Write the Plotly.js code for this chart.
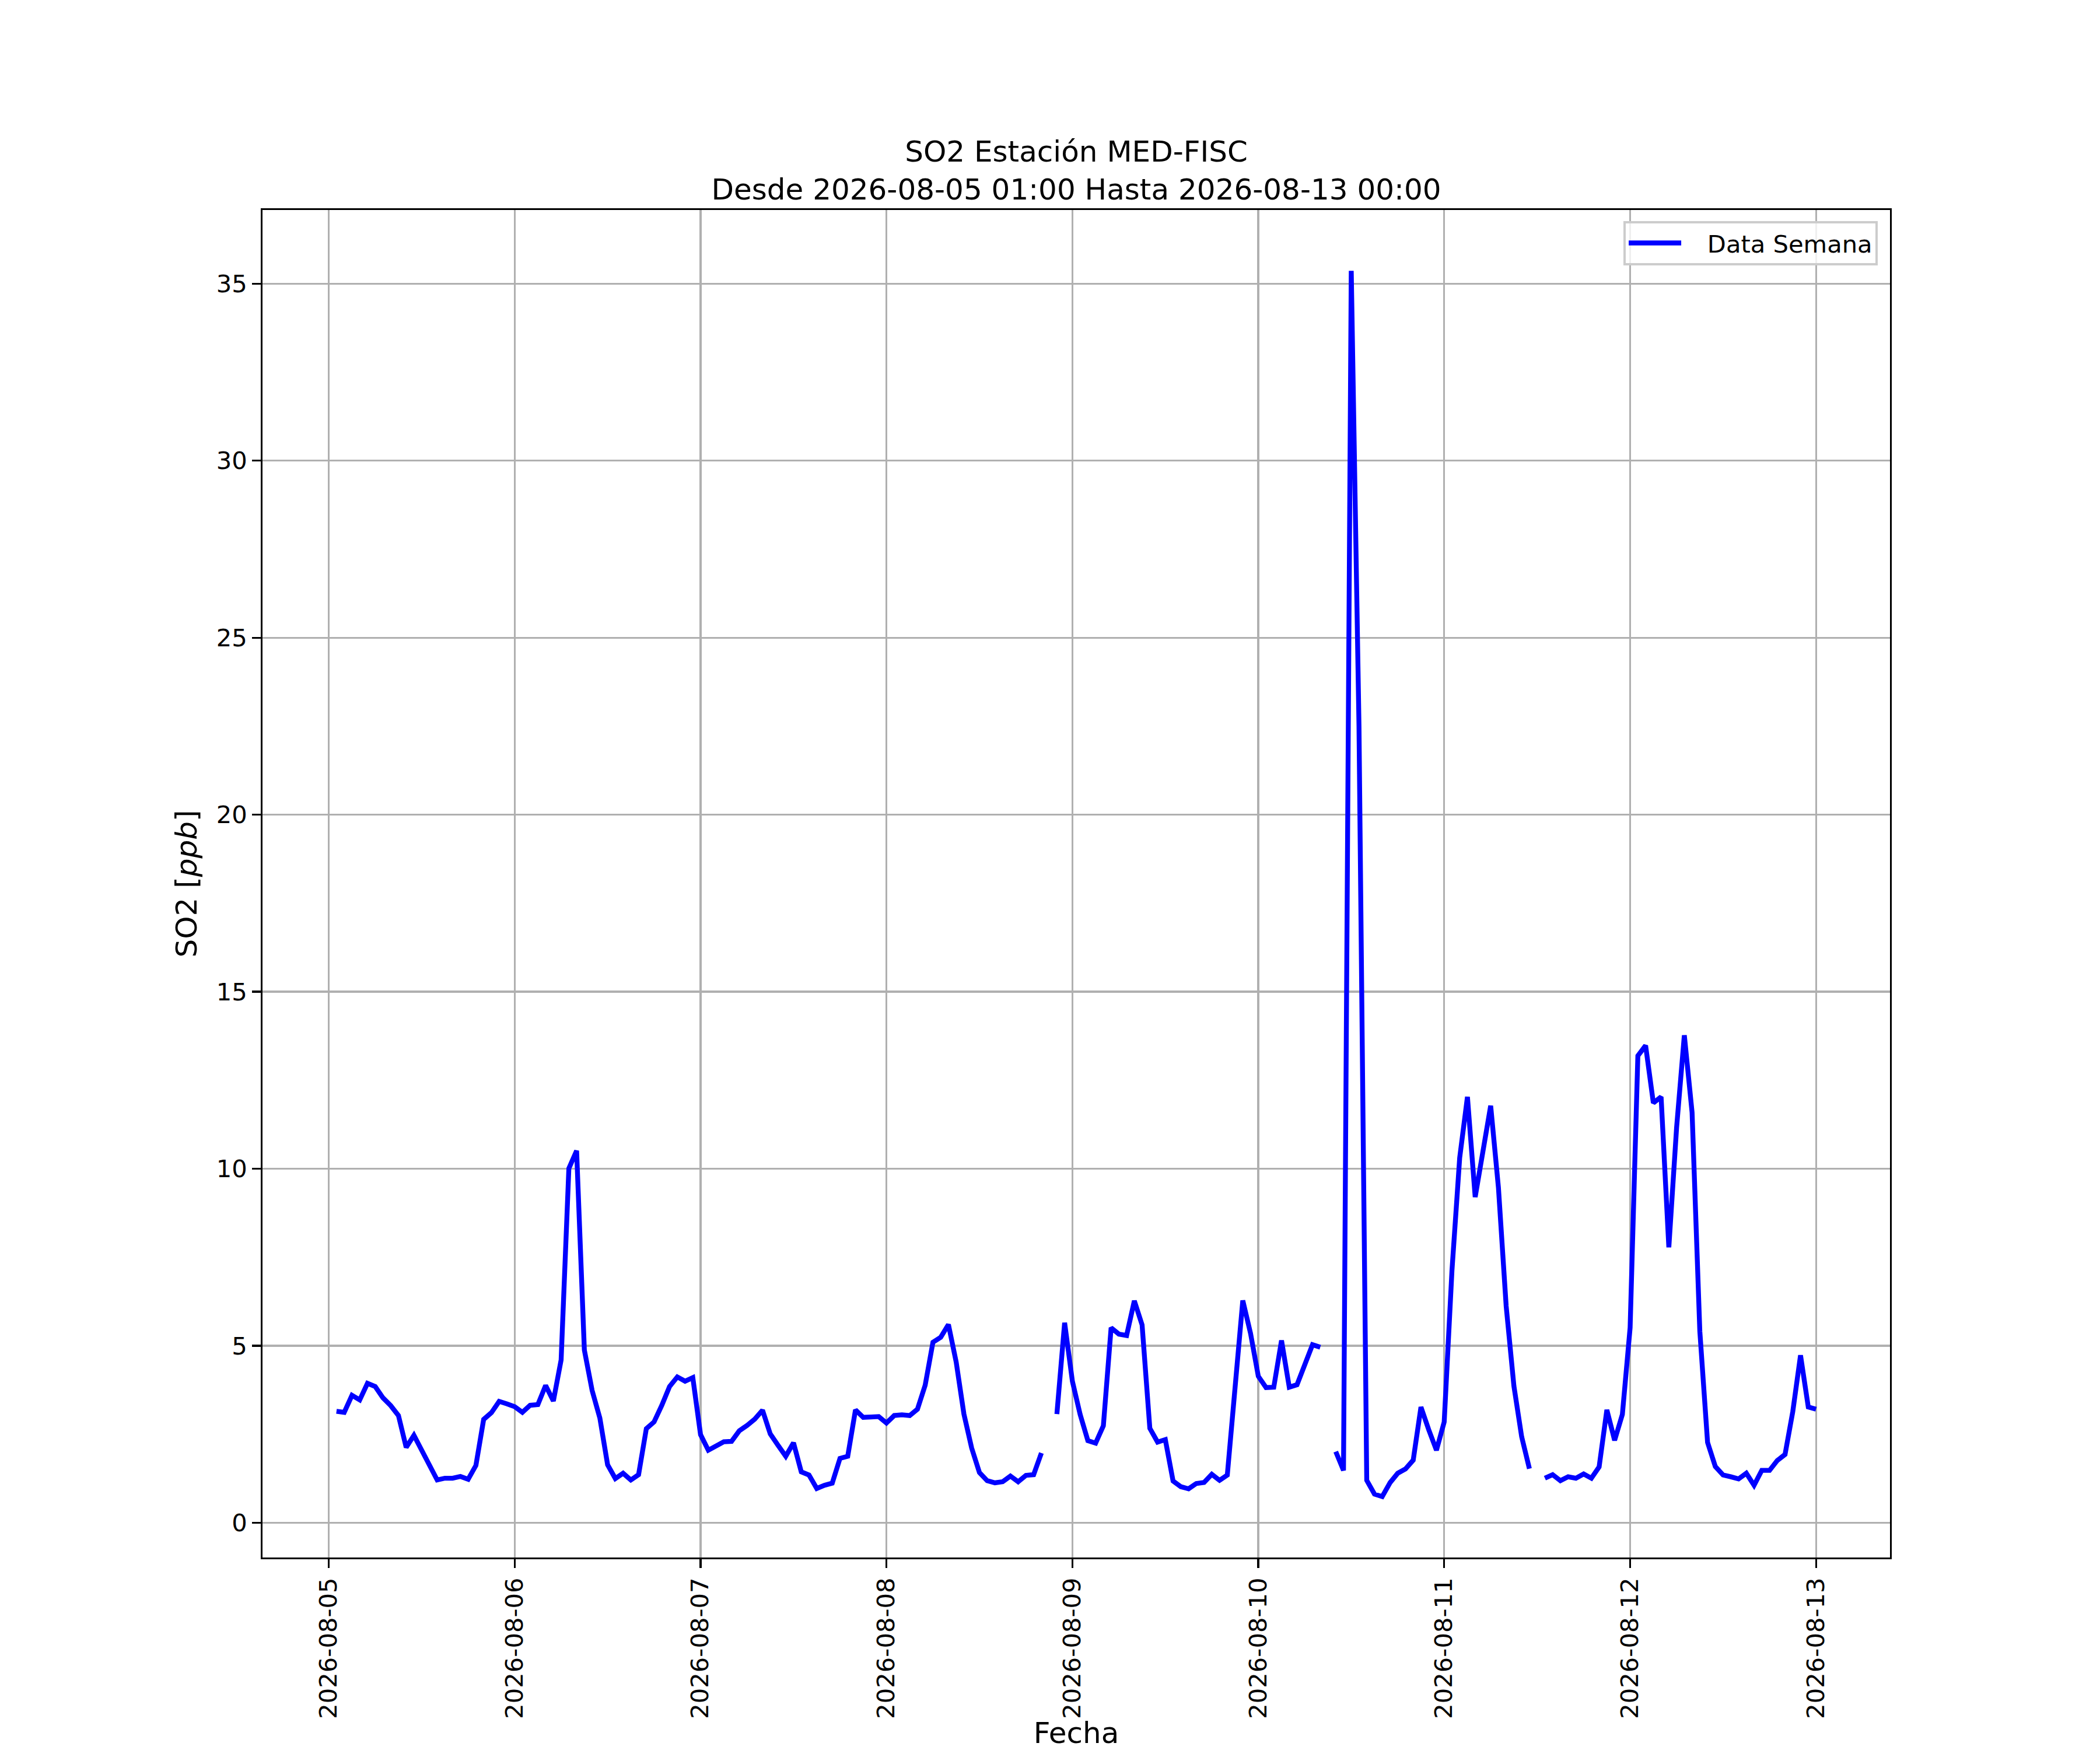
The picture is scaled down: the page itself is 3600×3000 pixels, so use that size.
<!DOCTYPE html>
<html>
<head>
<meta charset="utf-8">
<script src="https://cdn.plot.ly/plotly-3.0.1.min.js"></script>
<style>
  html, body { margin: 0; padding: 0; background: #fff; }
  #grafico { width: 3600px; height: 3000px; }
</style>
</head>
<body>
<div id="grafico"></div>
<script>
// Valores horarios de SO2 [ppb], un arreglo por día (null = sin dato)
const fechas = ['2026-08-05', '2026-08-06', '2026-08-07', '2026-08-08', '2026-08-09',
                '2026-08-10', '2026-08-11', '2026-08-12', '2026-08-13'];
// hora de la primera medición de cada día
const horaInicio = [1, 0, 0, 0, 0, 0, 0, 0, 0];

const so2_0805 = [3.15, 3.12, 3.60, 3.47, 3.94, 3.85, 3.53, 3.31, 3.03, 2.13, 2.47, 2.07,
                  1.68, 1.21, 1.26, 1.26, 1.31, 1.23, 1.62, 2.92, 3.11, 3.43, 3.36];
const so2_0806 = [3.28, 3.12, 3.32, 3.34, 3.88, 3.44, 4.60, 10.01, 10.51, 4.88, 3.74, 2.96,
                  1.64, 1.25, 1.40, 1.21, 1.36, 2.66, 2.85, 3.32, 3.85, 4.12, 4.00, 4.10];
const so2_0807 = [2.49, 2.05, 2.19, 2.29, 2.30, 2.60, 2.75, 2.93, 3.18, 2.51, 2.19, 1.88,
                  2.26, 1.44, 1.35, 0.97, 1.06, 1.12, 1.82, 1.88, 3.19, 2.98, 2.99, 3.00];
const so2_0808 = [2.82, 3.03, 3.05, 3.03, 3.21, 3.89, 5.10, 5.24, 5.60, 4.54, 3.07, 2.11,
                  1.42, 1.19, 1.13, 1.16, 1.32, 1.16, 1.34, 1.36, 1.97, null, 3.07, 5.65];
const so2_0809 = [4.00, 3.06, 2.32, 2.25, 2.74, 5.51, 5.33, 5.29, 6.27, 5.59, 2.67, 2.28,
                  2.35, 1.18, 1.02, 0.96, 1.11, 1.14, 1.37, 1.20, 1.35, 3.85, 6.28, 5.35];
const so2_0810 = [4.14, 3.82, 3.83, 5.15, 3.83, 3.90, 4.44, 5.03, 4.96, null, 2.01, 1.48,
                  35.36, 22.5, 1.20, 0.81, 0.74, 1.13, 1.40, 1.52, 1.77, 3.27, 2.63, 2.05];
const so2_0811 = [2.85, 7.12, 10.31, 12.03, 9.20, 10.49, 11.78, 9.47, 6.12, 3.86, 2.43, 1.53,
                  null, 1.26, 1.36, 1.19, 1.30, 1.26, 1.38, 1.26, 1.58, 3.19, 2.33, 3.06];
const so2_0812 = [5.51, 13.19, 13.48, 11.86, 12.03, 7.78, 11.16, 13.77, 11.59, 5.41, 2.27, 1.59,
                  1.35, 1.30, 1.24, 1.40, 1.06, 1.48, 1.48, 1.76, 1.93, 3.14, 4.73, 3.27];
const so2_0813 = [3.21];

const porDia = [so2_0805, so2_0806, so2_0807, so2_0808, so2_0809,
                so2_0810, so2_0811, so2_0812, so2_0813];

const tickFechas = fechas.map(f => f + ' 00:00');

// Armar la serie completa (fecha-hora, valor)
const x = [];
const y = [];
porDia.forEach((valores, i) => {
  valores.forEach((v, j) => {
    const hh = String(horaInicio[i] + j).padStart(2, '0');
    x.push(`${fechas[i]} ${hh}:00`);
    y.push(v);
  });
});

const fuente = 'DejaVu Sans, sans-serif';
const px = pt => pt * 300 / 72;

const trace = {
  x: x,
  y: y,
  type: 'scatter',
  mode: 'lines',
  // espacios duros para separar el texto de la muestra de línea
  name: '\u00a0\u00a0\u00a0Data Semana',
  line: { color: '#0000ff', width: px(2) },
  connectgaps: false,
};

const ejeComun = {
  showgrid: true,
  gridcolor: '#b0b0b0',
  gridwidth: px(0.8),
  showline: true,
  linecolor: '#000000',
  linewidth: px(0.8),
  mirror: true,
  ticks: 'outside',
  ticklen: px(3.5),
  tickwidth: px(0.8),
  tickcolor: '#000000',
  zeroline: false,
  tickfont: { family: fuente, size: px(10), color: '#000000' },
  ticklabelstandoff: px(3.5),
};

const layout = {
  width: 3600,
  height: 3000,
  margin: { l: 450, r: 360, t: 360, b: 330 },
  paper_bgcolor: '#ffffff',
  plot_bgcolor: '#ffffff',
  font: { family: fuente, size: px(10), color: '#000000' },
  title: {
    text: 'SO2 Estación MED-FISC<br>Desde 2026-08-05 01:00 Hasta 2026-08-13 00:00',
    font: { family: fuente, size: px(12), color: '#000000' },
    x: 0.5,
    xref: 'paper',
    xanchor: 'center',
    y: 1,
    yref: 'paper',
    yanchor: 'bottom',
    pad: { b: 83 },
  },
  xaxis: Object.assign({}, ejeComun, {
    type: 'date',
    range: ['2026-08-04 15:27', '2026-08-13 09:33'],
    tickmode: 'array',
    tickvals: tickFechas,
    ticktext: fechas,
    tickangle: -90,
    title: { text: 'Fecha', font: { family: fuente, size: px(12) }, standoff: 27 },
  }),
  yaxis: Object.assign({}, ejeComun, {
    range: [-0.98, 37.08],
    tickmode: 'linear',
    tick0: 0,
    dtick: 5,
    title: { text: 'SO2 [<i>ppb</i>]', font: { family: fuente, size: px(12) }, standoff: 18 },
  }),
  showlegend: true,
  legend: {
    x: 0.9925,
    xanchor: 'right',
    y: 0.9918,
    yanchor: 'top',
    bgcolor: 'rgba(255,255,255,0.8)',
    bordercolor: '#cccccc',
    borderwidth: 4,
    font: { family: fuente, size: px(10), color: '#000000' },
    itemwidth: 90,
  },
};

Plotly.newPlot('grafico', [trace], layout, { staticPlot: true, displayModeBar: false });
</script>
</body>
</html>
